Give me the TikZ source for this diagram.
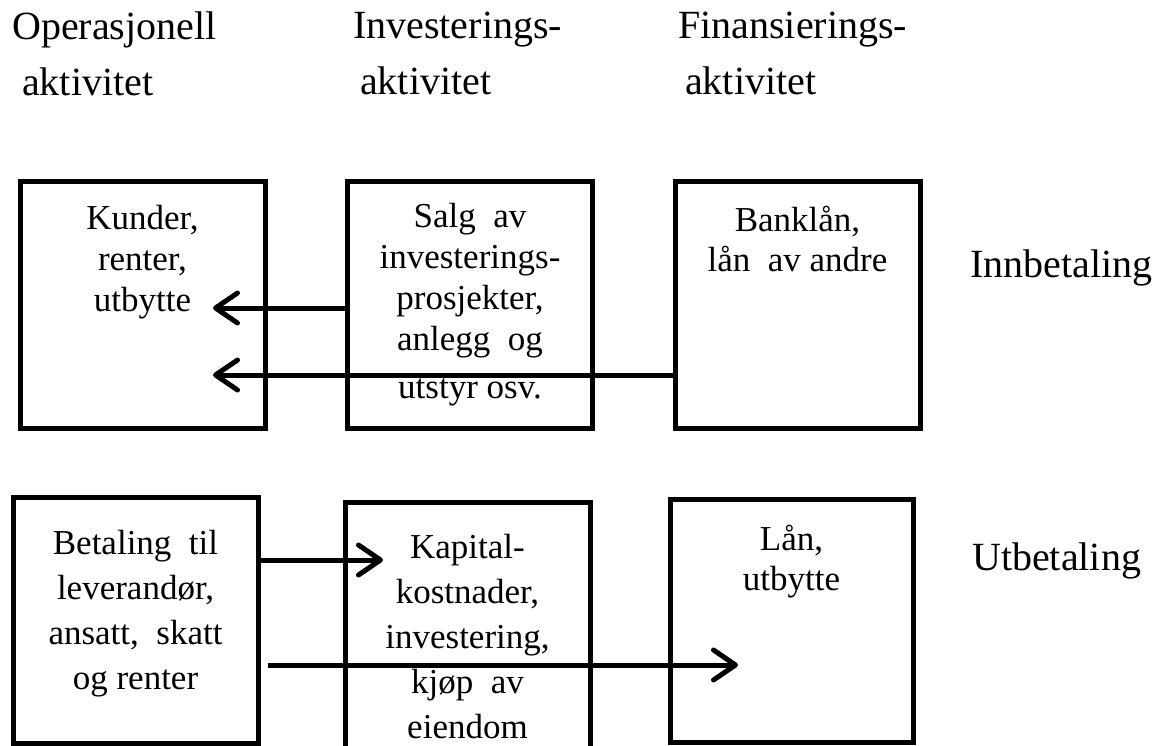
\documentclass[tikz,border=0pt]{standalone}
\usepackage{fontspec}
\setmainfont{Liberation Serif}
\usetikzlibrary{arrows.meta,positioning}

\begin{document}
\begin{tikzpicture}[
	x=1pt, y=-1pt,
	box/.style={draw, line width=5pt, inner sep=0pt, minimum width=245pt, minimum height=246pt},
	boxtext/.style={align=center, inner sep=0pt, font=\fontsize{35}{#1}\selectfont},
	boxtext/.default=42,
	head/.style={align=left, anchor=north west, inner sep=0pt, font=\fontsize{40}{56}\selectfont},
	side/.style={anchor=base west, inner sep=0pt, font=\fontsize{40}{48}\selectfont},
	flow/.style={line width=5pt, -{Straight Barb[length=22pt,width=30pt,round]}}
	]
	\useasboundingbox (0,0) rectangle (1158,746);
	\node[head] (hop) at (12,12) {Operasjonell\\\hspace*{10pt}aktivitet};
	\node[head] (hinv) at (353,12) {Investerings-\\\hspace*{7pt}aktivitet};
	\node[head] (hfin) at (678,12) {Finansierings-\\\hspace*{7pt}aktivitet};
	
	\node[box] (kunder) at (142.5,305) {};
	\node[box] (salg) at (470,305) {};
	\node[box] (banklaan) at (797.5,305) {};
	\node[box] (betaling) at (135.5,620.5) {};
	\node[box, minimum height=248pt] (kapital) at (467.5,626) {};
	\node[box, minimum width=243pt, minimum height=243pt] (laan) at (791.5,620.5) {};
	
	\node[boxtext=41, below=26pt of kunder.north] (kundertxt) {Kunder,\\renter,\\utbytte};
	\node[boxtext=41, below=24pt of salg.north] (salgtxt) {Salg~ av\\investerings-\\prosjekter,\\anlegg~ og\\[7pt]utstyr osv.};
	\node[boxtext=40, below=26pt of banklaan.north] (banklaantxt) {Banklån,\\lån~ av andre};
	\node[boxtext=45, below=35pt of betaling.north] (betalingtxt) {Betaling~ til\\leverandør,\\ansatt,~ skatt\\og renter};
	\node[boxtext=45, below=35pt of kapital.north] (kapitaltxt) {Kapital-\\kostnader,\\investering,\\kjøp~ av\\eiendom};
	\node[boxtext=40, below=28pt of laan.north] (laantxt) {Lån,\\utbytte};
	
	\coordinate (tipA) at (213,308);
	\coordinate (tipB) at (213,375);
	\coordinate (tipC) at (383,560);
	\coordinate (tipD) at (738,665);
	\draw[flow] (salg.west |- tipA) -- (tipA);
	\draw[flow] (banklaan.west |- tipB) -- (tipB);
	\draw[flow] (betaling.east |- tipC) -- (tipC);
	\draw[flow] (betaling.east |- tipD) ++(7,0) -- (tipD);
	
	\node[side] (inn) at (970,277) {Innbetaling};
	\node[side] (ut) at (972,570) {Utbetaling};
\end{tikzpicture}
\end{document}
